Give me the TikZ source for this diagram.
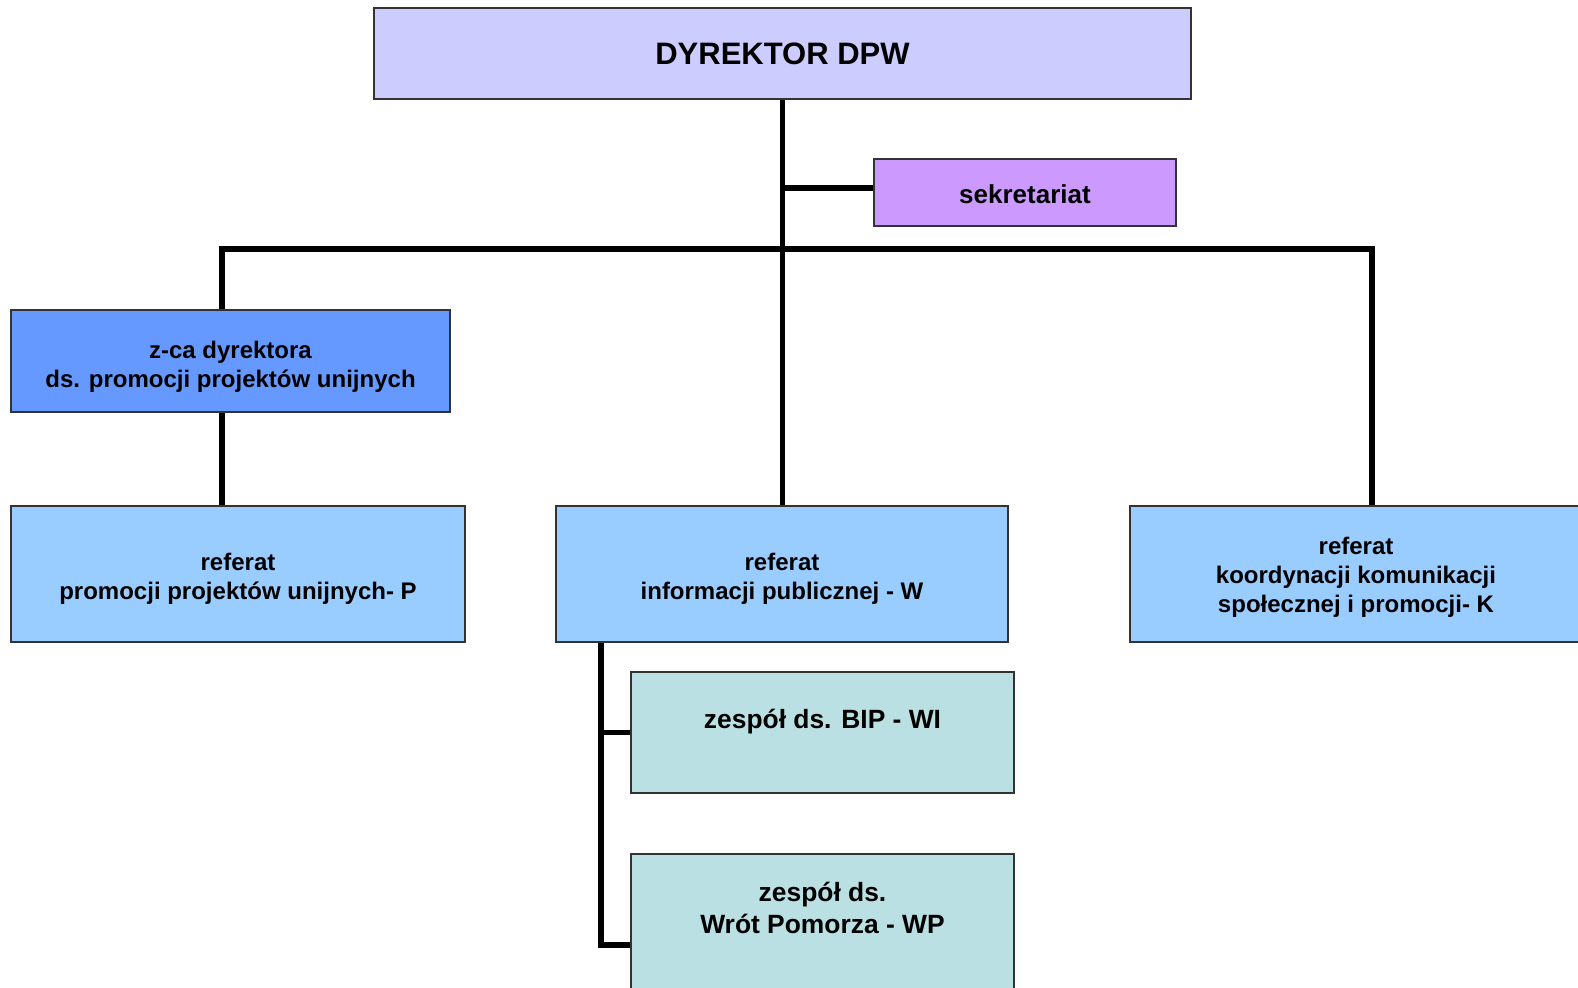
\documentclass[tikz,border=0pt]{standalone}
\usepackage{fontspec}
\setmainfont{Liberation Sans}
\usetikzlibrary{calc}

\definecolor{dyrfill}{RGB}{204,204,255}
\definecolor{sekfill}{RGB}{204,153,255}
\definecolor{zcafill}{RGB}{102,153,255}
\definecolor{reffill}{RGB}{153,204,255}
\definecolor{zespfill}{RGB}{187,224,227}

% invisible strut that pushes the first line down
\newcommand{\topgap}[1]{\rule{0pt}{#1}}

\tikzset{
  box/.style={draw=black!80, line width=1pt, align=center, inner sep=0pt,
    font=\bfseries\fontsize{12}{14.4}\selectfont},
  refbox/.style={box, fill=reffill, minimum width=226pt, minimum height=68pt},
  zespbox/.style={box, fill=zespfill, minimum width=191.5pt,
    font=\bfseries\fontsize{13.2}{15.6}\selectfont},
  link/.style={line width=2.6pt},
}

\begin{document}
\begin{tikzpicture}[x=0.5pt,y=-0.5pt]
    \useasboundingbox (0,0) rectangle (1578,987);

    % kierownictwo
    \node[box, fill=dyrfill, minimum width=408.5pt, minimum height=45.5pt,
      font=\bfseries\fontsize{15.5}{18.6}\selectfont] (dyr) at (782.5,53.5) {DYREKTOR DPW};
    \node[box, fill=sekfill, minimum width=151pt, minimum height=33.5pt,
      font=\bfseries\fontsize{13}{15.6}\selectfont] (sek) at (1025,192.5) {\topgap{11.5pt}sekretariat};
    \node[box, fill=zcafill, minimum width=219.5pt, minimum height=51pt] (zca) at (230.5,361)
      {\topgap{14.8pt}z-ca dyrektora\\ds. promocji projektów unijnych};

    % referaty
    \node[refbox, minimum width=227pt] (refP) at (238,574) {\topgap{13.8pt}referat\\promocji projektów unijnych- P};
    \node[refbox] (refW) at (782,574) {\topgap{13.8pt}referat\\informacji publicznej - W};
    \node[refbox] (refK) at (1356,574) {\topgap{11.8pt}referat\\koordynacji komunikacji\\społecznej i promocji- K};

    % zespoly
    \node[zespbox, minimum height=60.5pt] (bip) at (822.5,732.5) {\topgap{16.7pt}zespół ds. BIP - WI\\\strut};
    \node[zespbox, minimum height=68pt] (wp) at (822.5,922) {\topgap{15.7pt}zespół ds.\\Wrót Pomorza - WP\\\strut};

    % punkty pomocnicze
    \coordinate (bus) at (0,249);
    \coordinate (sky) at (0,188);
    \coordinate (lx) at (222,0);
    \coordinate (kx) at (1372,0);
    \coordinate (sx) at (601,0);
    \coordinate (wpy) at (0,945);

    % linie
    \draw[link] (dyr.south) -- (dyr.south |- refW.north);
    \draw[link] (dyr.south |- sky) -- (sek.west |- sky);
    \draw[link] (lx |- zca.north) -- (lx |- bus) -- (kx |- bus) -- (kx |- refK.north);
    \draw[link] (lx |- zca.south) -- (lx |- refP.north);
    \draw[link] (sx |- refW.south) -- (sx |- wpy) -- (wp.west |- wpy);
    \draw[link] (sx |- bip.west) -- (bip.west);
\end{tikzpicture}
\end{document}
